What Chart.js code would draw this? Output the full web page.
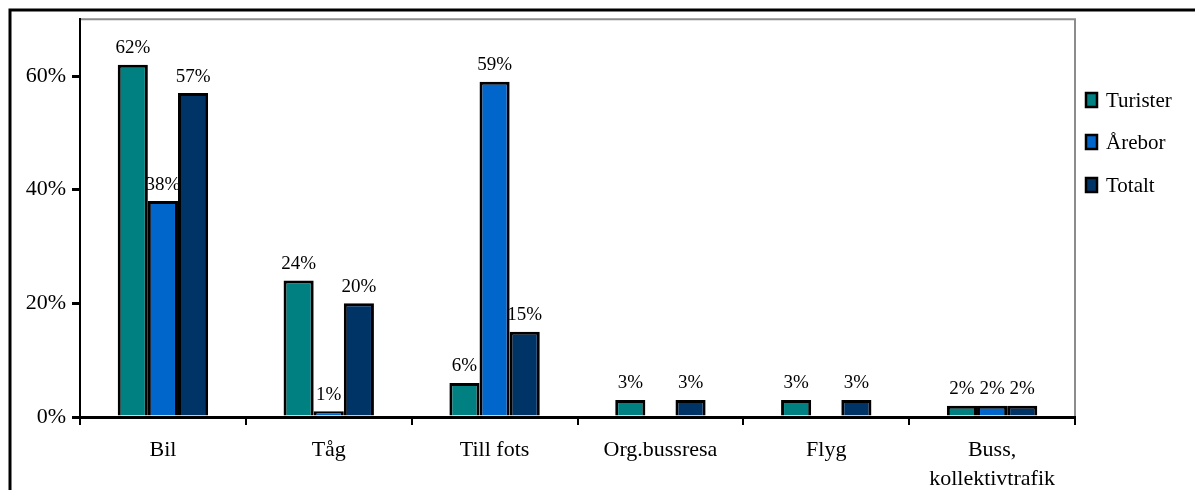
<!DOCTYPE html>
<html>
<head>
<meta charset="utf-8">
<script src="https://cdn.jsdelivr.net/npm/chart.js@4"></script>
<style>
  html, body { margin: 0; padding: 0; background: #fff; }
  #wrap { width: 1195px; height: 490px; position: relative; }
</style>
</head>
<body>
<div id="wrap"><canvas id="c" width="1195" height="490"></canvas></div>
<script>
// Travel mode shares
const categories = ['Bil', 'Tåg', 'Till fots', 'Org.bussresa', 'Flyg', ['Buss,', 'kollektivtrafik']];
const turister = [62, 24, 6, 3, 3, 2];
const arebor   = [38, 1, 59, null, null, 2];
const totalt   = [57, 20, 15, 3, 3, 2];
const yTicks   = [0, 20, 40, 60];
const seriesNames  = ['Turister', 'Årebor', 'Totalt'];
const seriesColors = ['#008080', '#0066CC', '#003366'];

const FONT = '"Liberation Serif", "Times New Roman", serif';

// Frame: outer black border, grey plot-area border
const framePlugin = {
  id: 'frame',
  beforeDraw(chart) {
    const ctx = chart.ctx, a = chart.chartArea;
    ctx.save();
    ctx.fillStyle = '#fff';
    ctx.fillRect(0, 0, chart.width, chart.height);
    ctx.strokeStyle = '#000';
    ctx.lineWidth = 3;
    ctx.beginPath();
    ctx.moveTo(10, chart.height + 2);
    ctx.lineTo(10, 10);
    ctx.lineTo(chart.width + 2, 10);
    ctx.stroke();
    ctx.strokeStyle = '#8c8c8c';
    ctx.lineWidth = 2;
    ctx.beginPath();
    ctx.moveTo(a.left, a.top);
    ctx.lineTo(a.right, a.top);
    ctx.lineTo(a.right, a.bottom);
    ctx.stroke();
    ctx.restore();
  }
};

// Value labels above bars and the legend at right
const labelPlugin = {
  id: 'labels',
  afterDatasetsDraw(chart) {
    const ctx = chart.ctx;
    ctx.save();
    ctx.font = '19px ' + FONT;
    ctx.fillStyle = '#000';
    ctx.textAlign = 'center';
    ctx.textBaseline = 'bottom';
    chart.data.datasets.forEach((ds, i) => {
      const meta = chart.getDatasetMeta(i);
      meta.data.forEach((bar, j) => {
        const v = ds.data[j];
        if (v === null || v === undefined) return;
        ctx.fillText(v + '%', bar.x, bar.y - 7);
      });
    });
    // legend
    const lx = 1086, ys = [100, 142, 185];
    chart.data.datasets.forEach((ds, i) => {
      const y = ys[i];
      ctx.fillStyle = ds.backgroundColor;
      ctx.fillRect(lx, y - 7, 11, 14);
      ctx.strokeStyle = '#000';
      ctx.lineWidth = 2.5;
      ctx.strokeRect(lx, y - 7, 11, 14);
      ctx.fillStyle = '#000';
      ctx.textAlign = 'left';
      ctx.textBaseline = 'middle';
      ctx.font = '21px ' + FONT;
      ctx.fillText(ds.label, lx + 20, y + 1);
    });
    ctx.restore();
  }
};

const datasets = [turister, arebor, totalt].map((d, i) => ({
  label: seriesNames[i],
  data: d,
  backgroundColor: seriesColors[i],
  borderColor: '#000',
  borderWidth: 3,
  borderSkipped: 'bottom',
  barPercentage: 1.0,
  categoryPercentage: 0.545
}));

new Chart(document.getElementById('c'), {
  type: 'bar',
  data: { labels: categories, datasets },
  options: {
    responsive: false,
    animation: false,
    layout: { padding: { left: 0, right: 120, top: 16, bottom: 0 } },
    plugins: { legend: { display: false }, tooltip: { enabled: false } },
    scales: {
      x: {
        grid: {
          offset: true,
          drawOnChartArea: false,
          drawTicks: true,
          tickLength: 8,
          color: '#000',
          lineWidth: 2
        },
        border: { color: '#000', width: 3 },
        ticks: {
          color: '#000',
          font: { family: FONT, size: 22, lineHeight: 1.35 },
          padding: 10,
          maxRotation: 0,
          autoSkip: false
        },
        afterFit(scale) { scale.height = 73; }
      },
      y: {
        min: 0,
        max: 70,
        afterBuildTicks(scale) { scale.ticks = yTicks.map(v => ({ value: v })); },
        grid: {
          drawOnChartArea: false,
          drawTicks: true,
          tickLength: 8,
          color: '#000',
          lineWidth: 3
        },
        border: { color: '#000', width: 2 },
        ticks: {
          color: '#000',
          font: { family: FONT, size: 22 },
          padding: 6,
          callback: v => v + '%'
        },
        afterFit(scale) { scale.width = 80; }
      }
    }
  },
  plugins: [framePlugin, labelPlugin]
});
</script>
</body>
</html>
